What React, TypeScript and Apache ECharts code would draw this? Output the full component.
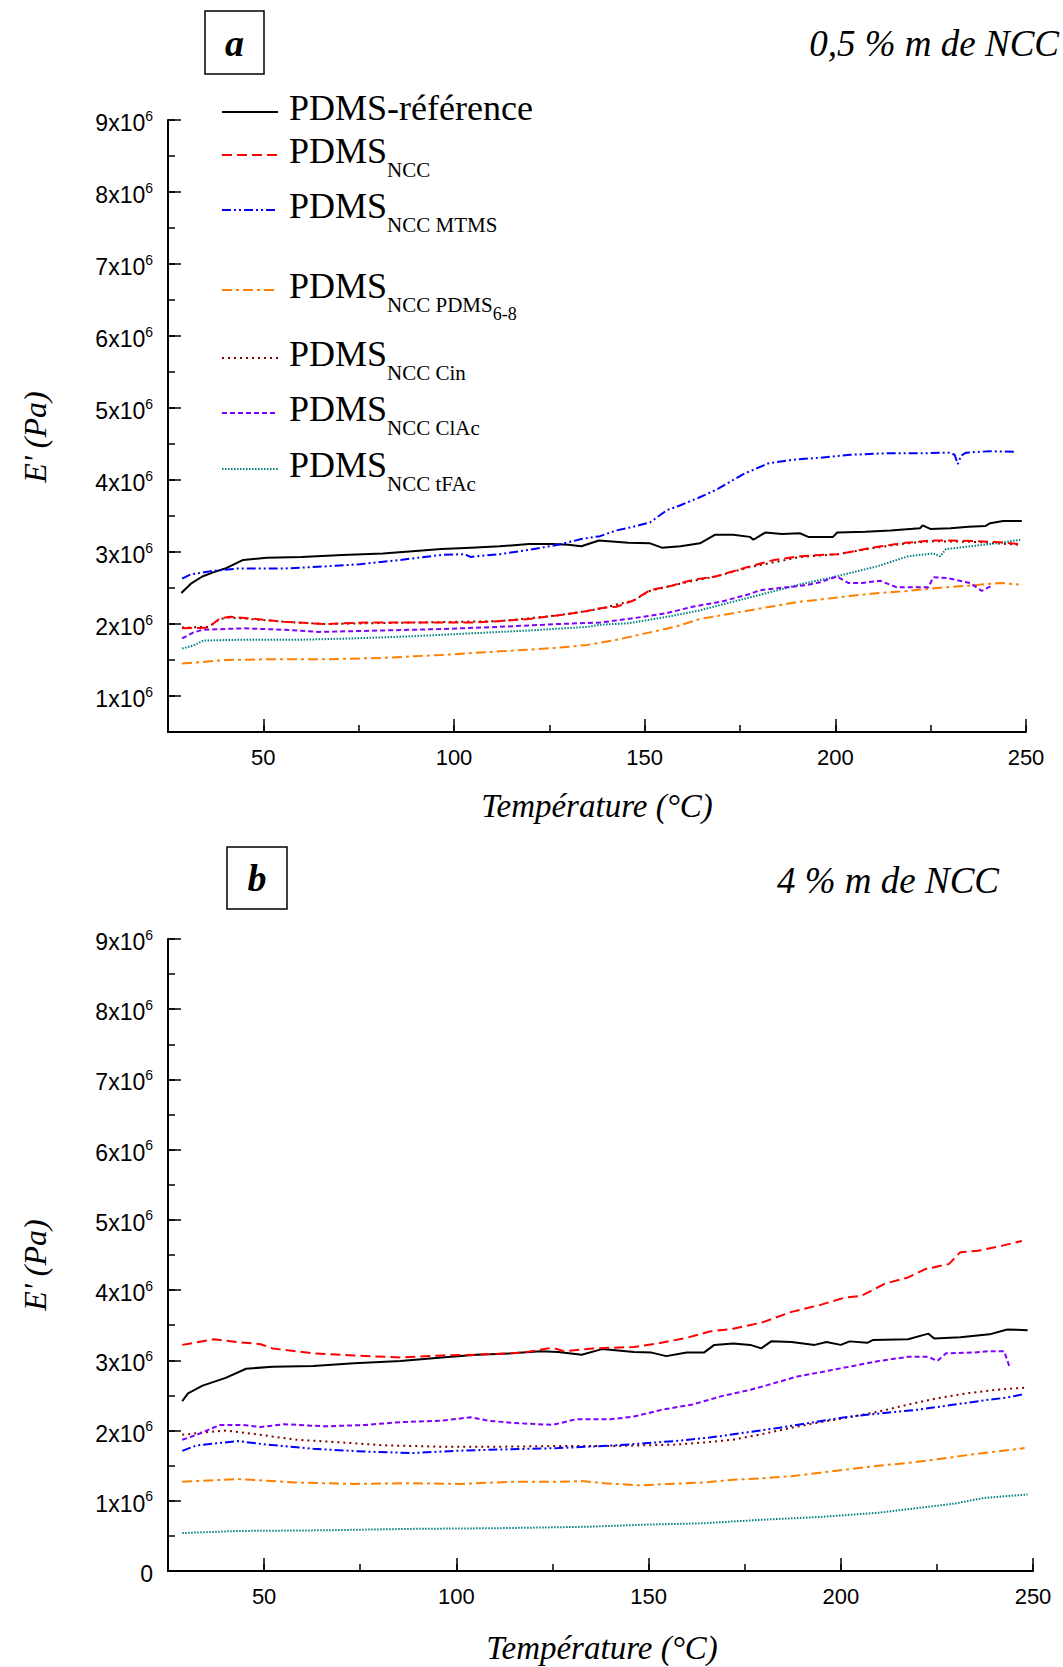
import React, { useEffect, useRef } from "react";
import * as echarts from "echarts";

// ---------- axis ticks ----------
const xMajorTicks = [50, 100, 150, 200, 250];
const yMajorTicksA = [1, 2, 3, 4, 5, 6, 7, 8, 9];
const yMajorTicksB = [0, 1, 2, 3, 4, 5, 6, 7, 8, 9];

// ---------- panel a (0,5 % m de NCC) : [T (°C), E' (x10^6 Pa)] ----------
const refA: [number, number][] = [
  [28.5, 2.43], [31, 2.56], [34, 2.66], [37, 2.72], [40, 2.77], [44.7, 2.89], [50.9, 2.92], [60, 2.93],
  [70.7, 2.96], [81.4, 2.98], [89.1, 3.01], [96.7, 3.04], [104.4, 3.06], [112, 3.08], [119.7, 3.11],
  [125.8, 3.11], [130, 3.1], [133.4, 3.08], [138, 3.16], [145.7, 3.13], [151.4, 3.12], [154.5, 3.06],
  [159.4, 3.08], [164.5, 3.12], [168.5, 3.24], [173.2, 3.24], [177.6, 3.21], [178.5, 3.17], [181.6, 3.27],
  [186, 3.25], [190.7, 3.26], [192.9, 3.21], [199.4, 3.21], [200.5, 3.27], [207.9, 3.28], [214.5, 3.3],
  [217, 3.31], [222.2, 3.33], [222.9, 3.37], [224.9, 3.32], [230.2, 3.33], [235, 3.35], [239.3, 3.36],
  [240.6, 3.4], [244, 3.43], [248.9, 3.43],
];
const nccA: [number, number][] = [
  [28.7, 1.94], [35.6, 1.95], [38.6, 2.08], [41.3, 2.1], [46.3, 2.08], [55.5, 2.03], [66.2, 2.0], [76.9, 2.02],
  [89.1, 2.02], [96.7, 2.02], [104.4, 2.02], [112, 2.04], [119.7, 2.07], [127.3, 2.12], [135, 2.18],
  [138.3, 2.22], [142.6, 2.24], [147.2, 2.33], [151.4, 2.47], [157, 2.53], [161, 2.59], [164.5, 2.63],
  [168.6, 2.66], [173, 2.73], [177.6, 2.8], [183.9, 2.89], [190.7, 2.94], [196, 2.96], [200.7, 2.97],
  [203.9, 3.0], [208.4, 3.05], [212, 3.08], [217, 3.12], [225.2, 3.16], [230, 3.16], [237, 3.15],
  [242, 3.14], [248.1, 3.11],
];
const mtmsA: [number, number][] = [
  [28.7, 2.63], [31, 2.69], [37, 2.74], [43.2, 2.77], [55.4, 2.77], [66, 2.8], [75.3, 2.83], [86, 2.89],
  [96.7, 2.96], [102.8, 2.97], [104.4, 2.93], [106, 2.94], [112, 2.97], [119.7, 3.03], [127.3, 3.1],
  [133.4, 3.18], [138.3, 3.22], [142.6, 3.3], [147, 3.35], [151.4, 3.41], [155.8, 3.58], [159.4, 3.65],
  [164, 3.75], [168.6, 3.86], [173.2, 4.0], [176.2, 4.09], [182.4, 4.23], [188.5, 4.28], [196.1, 4.31],
  [203.8, 4.35], [213, 4.37], [222.1, 4.37], [229.8, 4.38], [231.3, 4.35], [232.1, 4.22], [233, 4.34],
  [234.3, 4.38], [240.5, 4.4], [247.3, 4.39],
];
const pdms68A: [number, number][] = [
  [28.7, 1.45], [40.2, 1.5], [50.9, 1.51], [66.2, 1.51], [81.4, 1.53], [96.7, 1.57], [112, 1.62],
  [127.3, 1.67], [135, 1.71], [138.3, 1.74], [142.6, 1.78], [150.2, 1.87], [157.9, 1.96], [164.5, 2.07],
  [173.2, 2.15], [180.8, 2.22], [190.7, 2.31], [196.1, 2.34], [203.8, 2.39], [211.4, 2.43], [217, 2.45],
  [226.7, 2.5], [234.3, 2.53], [243.2, 2.57], [248.1, 2.55],
];
const cinA: [number, number][] = [
  [28.7, 1.95], [35.6, 1.96], [38.6, 2.07], [41.3, 2.09], [46.3, 2.07], [55.5, 2.03], [66.2, 2.0],
  [89.1, 2.02], [112, 2.04], [127.3, 2.12], [138.3, 2.21], [147.2, 2.33], [151.4, 2.46], [161, 2.58],
  [168.6, 2.66], [177.6, 2.79], [190.7, 2.93], [200.7, 2.97], [208.4, 3.04], [217, 3.11], [225.2, 3.15],
  [237, 3.14], [248.1, 3.1],
];
const clacA: [number, number][] = [
  [28.7, 1.8], [31.6, 1.88], [34, 1.92], [44.8, 1.94], [55.5, 1.92], [64.6, 1.89], [81.4, 1.91],
  [96.7, 1.93], [112, 1.96], [127.3, 2.0], [138.3, 2.02], [147, 2.08], [155.8, 2.15], [162.5, 2.24],
  [170.1, 2.31], [177.8, 2.42], [180.3, 2.47], [185.4, 2.5], [192.5, 2.54], [196, 2.58], [200.4, 2.66],
  [203.4, 2.57], [207, 2.57], [211.7, 2.6], [216.1, 2.51], [224.4, 2.51], [225.7, 2.65], [229.2, 2.64],
  [235.3, 2.57], [238.4, 2.46], [241, 2.53],
];
const tfacA: [number, number][] = [
  [28.7, 1.66], [31.6, 1.7], [34.3, 1.77], [43.2, 1.78], [58.5, 1.78], [73.8, 1.8], [89.1, 1.83],
  [104.4, 1.87], [119.7, 1.91], [135, 1.96], [138.3, 1.99], [145.7, 2.01], [157.9, 2.12], [164.5, 2.19],
  [173.2, 2.31], [182, 2.43], [191.5, 2.56], [199.4, 2.65], [210.9, 2.8], [219.1, 2.94], [225.7, 2.98],
  [227.5, 2.94], [229, 3.04], [238.8, 3.1], [243.5, 3.13], [248.5, 3.17],
];

// ---------- panel b (4 % m de NCC) ----------
const refB: [number, number][] = [
  [28.7, 2.42], [30.2, 2.53], [34, 2.64], [40, 2.75], [45.3, 2.88], [52.2, 2.91], [62.8, 2.92], [73.4, 2.96],
  [85.5, 2.99], [96.2, 3.04], [105.3, 3.08], [114.4, 3.1], [122, 3.13], [126.5, 3.12], [132.6, 3.08],
  [137.9, 3.16], [146.2, 3.12], [150.8, 3.11], [154.6, 3.06], [159.9, 3.11], [164.4, 3.11], [167.1, 3.22],
  [172, 3.24], [176.5, 3.22], [179.3, 3.17], [181.9, 3.27], [187.2, 3.26], [193.2, 3.22], [196.3, 3.26],
  [200, 3.22], [202.3, 3.27], [206.9, 3.25], [208.4, 3.29], [217.5, 3.3], [222.8, 3.38], [224.3, 3.31],
  [231.1, 3.33], [238.7, 3.37], [243.3, 3.44], [248.6, 3.43],
];
const nccB: [number, number][] = [
  [28.7, 3.22], [37, 3.3], [43.1, 3.26], [49.1, 3.23], [52.2, 3.17], [62.8, 3.1], [73.4, 3.07], [85.5, 3.04],
  [96.2, 3.07], [105.3, 3.08], [117.4, 3.11], [125, 3.18], [128, 3.13], [135.6, 3.17], [146.2, 3.19],
  [152.3, 3.24], [159.9, 3.32], [165.9, 3.41], [172, 3.45], [179.6, 3.54], [187.2, 3.69], [194.7, 3.79],
  [200.8, 3.89], [205.4, 3.92], [211.4, 4.09], [217.5, 4.18], [222, 4.3], [228.1, 4.37], [231.1, 4.54],
  [235.7, 4.56], [241.8, 4.63], [247.1, 4.7],
];
const mtmsB: [number, number][] = [
  [28.7, 1.71], [32.5, 1.79], [43.1, 1.85], [50.7, 1.8], [62.8, 1.74], [76.4, 1.7], [88.6, 1.68],
  [99.2, 1.71], [111.3, 1.73], [126.5, 1.75], [141.7, 1.79], [156.8, 1.85], [165.9, 1.9], [175, 1.97],
  [184.1, 2.04], [193.2, 2.12], [202.3, 2.2], [211.4, 2.25], [220.5, 2.3], [229.6, 2.37], [238.7, 2.44],
  [243.3, 2.47], [247.8, 2.52],
];
const pdms68B: [number, number][] = [
  [28.7, 1.27], [43.1, 1.31], [58.2, 1.26], [73.4, 1.24], [88.6, 1.25], [100.7, 1.24], [114.4, 1.27],
  [126.5, 1.27], [132.6, 1.28], [138.6, 1.25], [147.7, 1.22], [155.3, 1.24], [164.4, 1.26], [172, 1.3],
  [179.6, 1.32], [187.2, 1.35], [194.7, 1.4], [202.3, 1.45], [209.9, 1.5], [217.5, 1.54], [225.1, 1.59],
  [232.7, 1.65], [240.3, 1.7], [247.8, 1.75],
];
const cinB: [number, number][] = [
  [28.7, 1.94], [35.5, 1.98], [40, 2.0], [47.6, 1.95], [58.2, 1.87], [70.4, 1.83], [81, 1.79], [96.2, 1.77],
  [111.3, 1.77], [126.5, 1.78], [141.7, 1.78], [156.8, 1.8], [164.4, 1.83], [172, 1.87], [179.6, 1.95],
  [187.2, 2.04], [194.7, 2.12], [202.3, 2.19], [209.9, 2.27], [217.5, 2.37], [225.1, 2.46], [232.7, 2.53],
  [240.3, 2.58], [247.8, 2.61],
];
const clacB: [number, number][] = [
  [28.7, 1.87], [32.5, 1.94], [38.5, 2.08], [44.6, 2.08], [49.1, 2.05], [55.2, 2.09], [65.8, 2.06],
  [76.4, 2.08], [85.5, 2.12], [96.2, 2.14], [103.7, 2.19], [108.3, 2.14], [114.4, 2.11], [125, 2.08],
  [131.1, 2.16], [140.1, 2.16], [146.2, 2.2], [153.8, 2.3], [161.4, 2.37], [169, 2.49], [176.5, 2.58],
  [181.1, 2.65], [188.7, 2.77], [194.7, 2.83], [202.3, 2.91], [209.9, 2.99], [217.5, 3.05], [222.8, 3.05],
  [225.1, 2.99], [227.4, 3.1], [234.2, 3.11], [238.7, 3.13], [242.5, 3.13], [244, 2.89],
];
const tfacB: [number, number][] = [
  [28.7, 0.54], [43.1, 0.57], [65.8, 0.58], [88.6, 0.6], [111.3, 0.61], [134.1, 0.63], [149.2, 0.66],
  [164.4, 0.68], [179.6, 0.73], [194.7, 0.77], [209.9, 0.83], [222, 0.91], [229.6, 0.96], [237.2, 1.04],
  [248.6, 1.09],
];

// ---------- series styles & legend ----------
const seriesKeys = ["ref", "cin", "pdms68", "tfac", "clac", "ncc", "mtms"];
const styles: Record<string, { color: string; dash: any; width: number }> = {
  ref: { color: "#000000", dash: "solid", width: 2 },
  ncc: { color: "#FF0000", dash: [10, 5], width: 2 },
  mtms: { color: "#0000FF", dash: [9, 3, 2, 3, 2, 3], width: 2 },
  pdms68: { color: "#FF8000", dash: [10, 4, 3, 4], width: 2 },
  cin: { color: "#800000", dash: [2, 4], width: 2 },
  clac: { color: "#8000FF", dash: [5, 3], width: 2 },
  tfac: { color: "#008080", dash: [1.5, 1.5], width: 2 },
};
const dataA: Record<string, [number, number][]> = {
  ref: refA, ncc: nccA, mtms: mtmsA, pdms68: pdms68A, cin: cinA, clac: clacA, tfac: tfacA,
};
const dataB: Record<string, [number, number][]> = {
  ref: refB, ncc: nccB, mtms: mtmsB, pdms68: pdms68B, cin: cinB, clac: clacB, tfac: tfacB,
};
const legendKeys = ["ref", "ncc", "mtms", "pdms68", "cin", "clac", "tfac"];
const legendLabels = [
  "{m|PDMS-référence}",
  "{m|PDMS}{s|NCC}",
  "{m|PDMS}{s|NCC MTMS}",
  "{m|PDMS}{s|NCC PDMS}{ss|6-8}",
  "{m|PDMS}{s|NCC Cin}",
  "{m|PDMS}{s|NCC ClAc}",
  "{m|PDMS}{s|NCC tFAc}",
];
const legendLineY = [112, 155, 210, 290, 358, 413, 469];

const SANS = "Liberation Sans";
const SERIF = "Liberation Serif";

function yLabel(v: number) {
  if (v === 0) return "{b|0}";
  return `{b|${v}x10}{s|6}`;
}

function axesFor(grid: number, yMin: number, yMajor: number[]) {
  const x = [
    {
      gridIndex: grid, type: "value", min: 25, max: 250, interval: 25, position: "bottom",
      axisLine: { show: true, lineStyle: { color: "#000", width: 2 } },
      axisTick: { show: true, inside: true, length: 7, lineStyle: { color: "#000", width: 1.5 } },
      axisLabel: { show: false }, splitLine: { show: false },
    },
    {
      gridIndex: grid, type: "value", min: 25, max: 250, position: "bottom",
      axisLine: { show: false },
      axisTick: { show: true, inside: true, length: 13, customValues: xMajorTicks, lineStyle: { color: "#000", width: 1.5 } },
      axisLabel: { show: true, customValues: xMajorTicks, margin: 14, fontSize: 22, fontFamily: SANS, color: "#000" },
      splitLine: { show: false },
    },
  ];
  const y = [
    {
      gridIndex: grid, type: "value", min: yMin, max: 9, interval: 0.5, position: "left",
      axisLine: { show: true, lineStyle: { color: "#000", width: 2 } },
      axisTick: { show: true, inside: true, length: 7, lineStyle: { color: "#000", width: 1.5 } },
      axisLabel: { show: false }, splitLine: { show: false },
    },
    {
      gridIndex: grid, type: "value", min: yMin, max: 9, position: "left",
      axisLine: { show: false },
      axisTick: { show: true, inside: true, length: 13, customValues: yMajor, lineStyle: { color: "#000", width: 1.5 } },
      axisLabel: {
        show: true, customValues: yMajor, margin: 15, formatter: yLabel,
        rich: {
          b: { fontSize: 23, fontFamily: SANS, color: "#000", lineHeight: 23, padding: [3, 0, 13, 0], verticalAlign: "top" },
          s: { fontSize: 14, fontFamily: SANS, color: "#000", lineHeight: 14, padding: [0, 0, 0, 0], verticalAlign: "top" },
        },
      },
      splitLine: { show: false },
    },
  ];
  return { x, y };
}

export default function App() {
  const ref = useRef<HTMLDivElement>(null);
  useEffect(() => {
    if (!ref.current) return;
    const chart = echarts.init(ref.current, undefined, { renderer: "svg" });
    const a = axesFor(0, 0.5, yMajorTicksA);
    const b = axesFor(1, 0, yMajorTicksB);

    const series: any[] = [];
    seriesKeys.forEach((k) => {
      const st = styles[k];
      series.push({
        type: "line", name: k + "_a", xAxisIndex: 0, yAxisIndex: 0, data: dataA[k],
        showSymbol: false, symbol: "none", silent: true,
        lineStyle: { color: st.color, type: st.dash, width: st.width },
      });
      series.push({
        type: "line", name: k + "_b", xAxisIndex: 2, yAxisIndex: 2, data: dataB[k],
        showSymbol: false, symbol: "none", silent: true,
        lineStyle: { color: st.color, type: st.dash, width: st.width },
      });
    });

    const legendGraphics: any[] = [];
    legendKeys.forEach((k, i) => {
      const st = styles[k];
      const y = legendLineY[i];
      legendGraphics.push({
        type: "line", shape: { x1: 222, y1: y, x2: 278, y2: y },
        style: { stroke: st.color, lineWidth: 2, lineDash: st.dash === "solid" ? null : st.dash },
      });
      legendGraphics.push({
        type: "text", x: 289, y: y - 22,
        style: {
          text: legendLabels[i], fill: "#000", verticalAlign: "top", align: "left",
          rich: {
            m: { fontSize: 36, fontFamily: SERIF, fill: "#000", lineHeight: 36, verticalAlign: "top" },
            s: { fontSize: 21, fontFamily: SERIF, fill: "#000", lineHeight: 21, padding: [26, 0, 0, 0], verticalAlign: "top" },
            ss: { fontSize: 18, fontFamily: SERIF, fill: "#000", lineHeight: 18, padding: [37, 0, 0, 0], verticalAlign: "top" },
          },
        },
      });
    });

    const titleFont = { fontFamily: SERIF, fontStyle: "italic", fill: "#000" };
    const graphics: any[] = [
      { type: "rect", shape: { x: 205, y: 11, width: 59, height: 63 }, style: { fill: "#fff", stroke: "#000", lineWidth: 1.5 } },
      { type: "text", x: 234.5, y: 43, style: { text: "a", ...titleFont, fontWeight: "bold", fontSize: 38, align: "center", verticalAlign: "middle" } },
      { type: "text", x: 1059, y: 43, style: { text: "0,5 % m de NCC", ...titleFont, fontSize: 37, align: "right", verticalAlign: "middle" } },
      { type: "rect", shape: { x: 227, y: 847, width: 60, height: 62 }, style: { fill: "#fff", stroke: "#000", lineWidth: 1.5 } },
      { type: "text", x: 257, y: 878, style: { text: "b", ...titleFont, fontWeight: "bold", fontSize: 38, align: "center", verticalAlign: "middle" } },
      { type: "text", x: 999, y: 880, style: { text: "4 % m de NCC", ...titleFont, fontSize: 37, align: "right", verticalAlign: "middle" } },
      { type: "text", x: 35, y: 437, rotation: Math.PI / 2, style: { text: "E' (Pa)", ...titleFont, fontSize: 32, align: "center", verticalAlign: "middle" } },
      { type: "text", x: 35, y: 1265, rotation: Math.PI / 2, style: { text: "E' (Pa)", ...titleFont, fontSize: 32, align: "center", verticalAlign: "middle" } },
      { type: "text", x: 597, y: 806, style: { text: "Température (°C)", ...titleFont, fontSize: 33, align: "center", verticalAlign: "middle" } },
      { type: "text", x: 602, y: 1648, style: { text: "Température (°C)", ...titleFont, fontSize: 33, align: "center", verticalAlign: "middle" } },
      ...legendGraphics,
    ];

    chart.setOption({
      animation: false,
      backgroundColor: "#ffffff",
      grid: [
        { left: 168, top: 120, width: 858, height: 612 },
        { left: 168, top: 939, width: 865, height: 632 },
      ],
      xAxis: [...a.x, ...b.x],
      yAxis: [...a.y, ...b.y],
      series,
      graphic: graphics,
    });
    return () => chart.dispose();
  }, []);
  return (
    <div
      ref={ref}
      style={{ position: "absolute", left: 0, top: 0, width: 1063, height: 1667, background: "#fff" }}
    />
  );
}
